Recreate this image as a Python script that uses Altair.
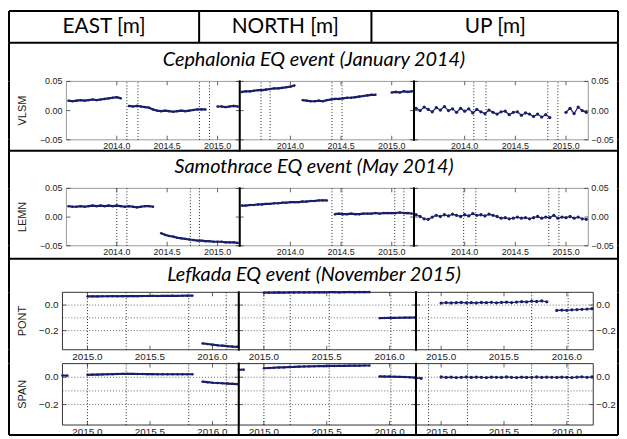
import altair as alt
import pandas as pd

# ---------------- text ----------------
HEADERS = ["EAST [m]", "NORTH [m]", "UP [m]"]
TITLES = ["Cephalonia EQ event (January 2014)",
          "Samothrace EQ event (May 2014)",
          "Lefkada EQ event (November 2015)"]
STATIONS = ["VLSM", "LEMN", "PONT", "SPAN"]

# ---------------- axes ----------------
XDOM_A = [2013.5, 2015.22]
XTICKS_A = [2014.0, 2014.5, 2015.0]
YDOM_A = [-0.05, 0.05]
YTICKS_A = [-0.05, 0.0, 0.05]
XDOM_B = [2014.8, 2016.21]
XTICKS_B = [2015.0, 2015.5, 2016.0]
YDOM_B = [-0.35, 0.1]
YTICKS_B = [0.0, -0.2]
YGRID_B = [0.0, -0.1, -0.2]

# dotted event epochs, one list per component (E, N, U)
EV_CEPH = [[2014.10, 2014.21, 2014.82, 2014.92],
           [2013.71, 2013.80, 2014.41, 2014.51],
           [2014.09, 2014.21, 2014.82, 2014.92]]
EV_SAMO = [[2014.00, 2014.10, 2014.73, 2014.82],
           [2014.41, 2014.51, 2015.03, 2015.12],
           [2013.99, 2014.11, 2014.83, 2014.93]]
EV_LEFK = [[2015.00, 2015.31, 2015.81, 2016.11],
           [2015.00, 2015.21, 2015.52, 2016.01],
           [2014.90, 2015.21, 2015.72, 2016.01]]

# ---------------- time series ----------------
T_A = [2013.52, 2013.56, 2013.60, 2013.64, 2013.68, 2013.72, 2013.76, 2013.80, 2013.84, 2013.88, 2013.92, 2013.96,
       2014.00, 2014.04, 2014.08, 2014.12, 2014.16, 2014.20, 2014.24, 2014.28, 2014.32, 2014.36, 2014.40, 2014.44, 2014.48,
       2014.52, 2014.56, 2014.60, 2014.64, 2014.68, 2014.72, 2014.76, 2014.80, 2014.84, 2014.88, 2014.92, 2014.96,
       2015.00, 2015.04, 2015.08, 2015.12, 2015.16, 2015.20]

VLSM_E = [0.017, 0.016, 0.017, 0.018, 0.017, 0.018, 0.019, 0.018, 0.019, 0.020, 0.021, 0.022,
          0.023, 0.021, None, 0.008, 0.007, 0.008, 0.007, 0.006, 0.005, 0.002, 0.000, -0.001, 0.000,
          -0.001, -0.002, -0.001, 0.000, -0.001, 0.000, 0.001, 0.002, 0.002, 0.002, None, None,
          0.007, 0.007, 0.006, 0.007, 0.008, 0.007]
VLSM_N = [0.032, 0.033, 0.033, 0.034, 0.035, 0.035, 0.036, 0.037, 0.038, 0.038, 0.039, 0.040,
          0.041, 0.043, None, 0.018, 0.017, 0.016, 0.016, 0.017, 0.016, 0.018, 0.019, 0.020, 0.020,
          0.021, 0.022, 0.022, 0.023, 0.024, 0.025, 0.026, 0.027, 0.027, None, None, None,
          0.031, 0.032, 0.031, 0.033, 0.032, 0.033]
VLSM_U = [0.004, 0.000, 0.006, 0.002, -0.002, 0.005, 0.001, 0.007, 0.000, 0.003, -0.003, 0.004,
          -0.001, 0.003, -0.004, 0.002, -0.002, -0.005, 0.001, -0.003, -0.006, -0.002, -0.001, -0.007, -0.003,
          -0.002, -0.008, -0.004, -0.006, -0.010, -0.006, -0.011, -0.007, -0.012, None, None, None,
          -0.003, 0.004, -0.005, 0.006, 0.000, -0.003]

LEMN_E = [0.019, 0.018, 0.018, 0.019, 0.018, 0.019, 0.020, 0.019, 0.020, 0.019, 0.020, 0.019,
          0.020, 0.019, 0.018, 0.019, 0.018, 0.017, 0.018, 0.019, 0.019, 0.018, None, -0.028, -0.031,
          -0.033, -0.034, -0.036, -0.037, -0.038, -0.039, -0.040, -0.041, -0.041, -0.042, -0.042, -0.043,
          -0.043, -0.043, -0.044, -0.044, -0.044, -0.045]
LEMN_N = [0.020, 0.020, 0.021, 0.021, 0.022, 0.022, 0.023, 0.023, 0.024, 0.024, 0.025, 0.025,
          0.026, 0.026, 0.026, 0.027, 0.027, 0.028, 0.028, 0.029, 0.029, 0.029, None, 0.005, 0.006,
          0.005, 0.005, 0.006, 0.005, 0.005, 0.006, 0.006, 0.006, 0.007, 0.006, 0.007, 0.007,
          0.007, 0.007, 0.008, 0.007, 0.007, 0.006]
LEMN_U = [0.004, 0.001, -0.003, -0.004, 0.000, 0.003, 0.001, 0.004, 0.002, 0.005, 0.003, 0.001,
          0.004, 0.002, 0.006, 0.003, 0.004, 0.002, 0.005, 0.003, 0.001, -0.002, -0.001, -0.003, -0.002,
          0.000, -0.002, -0.001, -0.003, -0.001, 0.001, -0.002, 0.000, -0.001, 0.003, -0.002, 0.000,
          -0.001, 0.001, -0.002, 0.000, -0.003, -0.004]

T_B = [2014.80, 2014.84, 2014.88, 2014.92, 2014.96,
       2015.00, 2015.04, 2015.08, 2015.12, 2015.16, 2015.20, 2015.24, 2015.28, 2015.32, 2015.36, 2015.40, 2015.44, 2015.48,
       2015.52, 2015.56, 2015.60, 2015.64, 2015.68, 2015.72, 2015.76, 2015.80, 2015.84, 2015.88, 2015.92, 2015.96,
       2016.00, 2016.04, 2016.08, 2016.12, 2016.16, 2016.20]

PONT_E = [None, None, None, None, None,
          0.068, 0.069, 0.068, 0.069, 0.069, 0.070, 0.069, 0.070, 0.070, 0.071, 0.070, 0.071, 0.071,
          0.072, 0.071, 0.072, 0.072, 0.073, 0.072, 0.073, 0.074, 0.074, None, -0.300, -0.305,
          -0.310, -0.315, -0.318, -0.322, -0.325, -0.327]
PONT_N = [None, None, None, None, None,
          0.097, 0.098, 0.098, 0.099, 0.098, 0.099, 0.099, 0.100, 0.099, 0.100, 0.100, 0.101, 0.100,
          0.101, 0.101, 0.100, 0.101, 0.102, 0.101, 0.102, 0.102, 0.102, None, -0.102, -0.101,
          -0.100, -0.100, -0.099, -0.098, -0.098, -0.097]
PONT_U = [None, None, None, None, None,
          0.016, 0.020, 0.017, 0.019, 0.021, 0.018, 0.020, 0.017, 0.021, 0.019, 0.022, 0.018, 0.021,
          0.023, 0.020, 0.024, 0.027, 0.025, 0.031, 0.028, 0.033, 0.026, None, -0.042, -0.039,
          -0.041, -0.037, -0.036, -0.033, -0.031, -0.028]
SPAN_E = [0.013, 0.012, None, None, None,
          0.018, 0.019, 0.020, 0.021, 0.022, 0.023, 0.024, 0.025, 0.025, 0.025, 0.024, 0.024, 0.023,
          0.023, 0.022, 0.022, 0.022, 0.022, 0.022, 0.022, 0.022, 0.022, None, -0.032, -0.036,
          -0.040, -0.042, -0.044, -0.046, -0.048, -0.050]
SPAN_N = [0.055, 0.056, None, None, None,
          0.066, 0.068, 0.070, 0.072, 0.073, 0.075, 0.076, 0.078, 0.079, 0.080, 0.081, 0.082, 0.082,
          0.083, 0.083, 0.084, 0.084, 0.085, 0.085, 0.085, 0.086, 0.086, None, 0.006, 0.005,
          0.005, 0.004, 0.003, 0.002, 0.000, -0.003]
SPAN_U = [-0.006, -0.008, None, None, None,
          0.002, -0.001, 0.001, -0.002, 0.000, 0.002, -0.001, 0.001, 0.000, -0.002, 0.001, 0.000, -0.001,
          0.002, 0.000, -0.002, 0.001, -0.001, 0.000, 0.002, -0.001, 0.001, 0.000, -0.001, 0.001,
          0.000, -0.002, 0.001, 0.003, 0.000, 0.002]

# ---------------- layout / style ----------------
W = 616
PX_A = [58, 233, 409, 585]
PX_B = [54, 232, 411, 590]
NAVY = "#1b1e6b"
INK = "#222222"
TICKFONT = "Liberation Sans"
HEADFONT = "Lato"
DUMMY = pd.DataFrame({"d": [0]})


def fmt(v, nd):
    return f"{v:.{nd}f}".replace("-", "\u2212")


def vrule(x, y1, y2, color="black", w=2):
    return alt.Chart(DUMMY).mark_rule(color=color, strokeWidth=w).encode(
        x=alt.value(x), y=alt.value(y1), y2=alt.value(y2))


def hrule(y, x1, x2, color="black", w=2):
    return alt.Chart(DUMMY).mark_rule(color=color, strokeWidth=w).encode(
        y=alt.value(y), x=alt.value(x1), x2=alt.value(x2))


def label(text, cx, cy, size=20, italic=False):
    kw = dict(text=text, font=HEADFONT, fontSize=size, align="center", baseline="middle", color="black")
    if italic:
        kw["fontStyle"] = "italic"
    return alt.Chart(DUMMY).mark_text(**kw).encode(x=alt.value(cx), y=alt.value(cy))


def panel(times, vals, events, xr, xdom, xticks, ydom, h, frame, side=None, yticks=None,
          nd=2, station=None, grid=None, lsize=9, thin=False):
    xs = alt.Scale(domain=xdom, range=xr, nice=False, zero=False)
    ys = alt.Scale(domain=ydom, nice=False, zero=False)
    X = lambda f: alt.X(f, scale=xs, axis=None)
    Y = lambda f: alt.Y(f, scale=ys, axis=None)

    fr = pd.DataFrame({"a": [xdom[0]], "b": [xdom[1]], "c": [ydom[0]], "e": [ydom[1]]})
    layers = [alt.Chart(fr).mark_rect(fillOpacity=0, stroke=frame, strokeWidth=1).encode(
        x=X("a:Q"), x2="b:Q", y=Y("c:Q"), y2="e:Q")]
    if grid:
        g = pd.DataFrame({"g": grid, "a": xdom[0], "b": xdom[1]})
        layers.append(alt.Chart(g).mark_rule(color="#444", strokeDash=[1, 2], strokeWidth=0.8).encode(
            y=Y("g:Q"), x=X("a:Q"), x2="b:Q"))
    ev = pd.DataFrame({"t": events, "c": ydom[0], "e": ydom[1]})
    layers.append(alt.Chart(ev).mark_rule(color=INK, strokeDash=[1, 2], strokeWidth=1).encode(
        x=X("t:Q"), y=Y("c:Q"), y2="e:Q"))
    # inward ticks (matplotlib style)
    tk = pd.DataFrame({"t": xticks})
    for yy in (2, h - 2):
        layers.append(alt.Chart(tk).mark_tick(color=INK, size=4, thickness=1).encode(
            x=X("t:Q"), y=alt.value(yy)))
    ytk = pd.DataFrame({"y": yticks})
    for xx in (xr[0] + 2, xr[1] - 2):
        layers.append(alt.Chart(ytk).mark_tick(color=INK, size=4, thickness=1).encode(
            y=Y("y:Q"), x=alt.value(xx)))
    # x tick labels
    xl = pd.DataFrame({"t": xticks, "lab": [fmt(t, 1) for t in xticks]})
    layers.append(alt.Chart(xl).mark_text(font=TICKFONT, fontSize=lsize, color=INK, baseline="top",
                                          align="center").encode(x=X("t:Q"), y=alt.value(h + 2), text="lab:N"))
    # y tick labels
    if side is not None:
        yl = pd.DataFrame({"y": yticks, "lab": [fmt(v, nd) for v in yticks],
                           "a": xdom[0] if side == "left" else xdom[1]})
        layers.append(alt.Chart(yl).mark_text(
            font=TICKFONT, fontSize=lsize, color=INK, baseline="middle",
            align="right" if side == "left" else "left", dx=-4 if side == "left" else 3).encode(
            x=X("a:Q"), y=Y("y:Q"), text="lab:N"))
    if station is not None:
        st = pd.DataFrame({"m": [(ydom[0] + ydom[1]) / 2], "s": [station]})
        layers.append(alt.Chart(st).mark_text(font=TICKFONT, fontSize=11, color=INK, angle=270,
                                              align="center", baseline="middle").encode(
            x=alt.value(14), y=Y("m:Q"), text="s:N"))
    # data
    df = pd.DataFrame({"t": times, "v": vals})
    df["seg"] = df["v"].isna().cumsum()
    df = df.dropna()
    layers.append(alt.Chart(df).mark_line(color=NAVY, strokeWidth=1.2 if thin else 2.2,
                                          strokeJoin="round").encode(
        x=X("t:Q"), y=Y("v:Q"), detail="seg:N"))
    layers.append(alt.Chart(df).mark_circle(color=NAVY, size=11 if thin else 6, opacity=1).encode(
        x=X("t:Q"), y=Y("v:Q")))
    return alt.layer(*layers)


def panel_row(series, times, events, px, xdom, xticks, ydom, h, frame, station, yticks, nd,
              grid=None, lsize=9, extra=None):
    ps = []
    for i, vals in enumerate(series):
        side = "left" if i == 0 else ("right" if i == 2 else None)
        ps.append(panel(times, vals, events[i], [px[i], px[i + 1]], xdom, xticks, ydom, h, frame,
                        side=side, yticks=yticks, nd=nd, station=station if i == 0 else None,
                        grid=grid, lsize=lsize, thin=(i == 2)))
    deco = [vrule(0, 0, h), vrule(W - 1, 0, h)]
    deco += extra or [vrule(px[1], -1, h + 1), vrule(px[2], -1, h + 1)]
    return alt.layer(*ps, *deco).resolve_scale(x="independent", y="independent").properties(width=W, height=h)


def text_row(h, items):
    return alt.layer(*items, vrule(0, 0, h), vrule(W - 1, 0, h)).properties(width=W, height=h)


H_HEAD, H_T1, H_R1, H_T2, H_R2, H_T3, H_R3A, H_GAP, H_R3B, H_BOT = 32, 39, 59, 49, 58, 47, 58, 14, 62, 10

header = text_row(H_HEAD, [
    hrule(0, 0, W - 1), hrule(H_HEAD, 0, W - 1),
    vrule(192, 0, H_HEAD), vrule(366, 0, H_HEAD),
    label(HEADERS[0], 96, 16, 21), label(HEADERS[1], 279, 16, 21), label(HEADERS[2], 491, 16, 21)])
t1 = text_row(H_T1, [label(TITLES[0], W / 2, 17, 20, italic=True)])
r1 = panel_row([VLSM_E, VLSM_N, VLSM_U], T_A, EV_CEPH, PX_A, XDOM_A, XTICKS_A, YDOM_A, H_R1,
               "#999", STATIONS[0], YTICKS_A, 2, lsize=9,
               extra=[vrule(PX_A[1], -1, H_R1 + 12), vrule(PX_A[2], -1, H_R1 + 1)])
t2 = text_row(H_T2, [hrule(11, 0, W - 1), label(TITLES[1], W / 2, 28, 20, italic=True)])
r2 = panel_row([LEMN_E, LEMN_N, LEMN_U], T_A, EV_SAMO, PX_A, XDOM_A, XTICKS_A, YDOM_A, H_R2,
               "#999", STATIONS[1], YTICKS_A, 2, lsize=9)
t3 = text_row(H_T3, [hrule(13, 0, W - 1), label(TITLES[2], W / 2, 30, 20, italic=True)])
r3a = panel_row([PONT_E, PONT_N, PONT_U], T_B, EV_LEFK, PX_B, XDOM_B, XTICKS_B, YDOM_B, H_R3A,
                "#333", STATIONS[2], YTICKS_B, 1, grid=YGRID_B, lsize=10)
gap = text_row(H_GAP, [])
r3b = panel_row([SPAN_E, SPAN_N, SPAN_U], T_B, EV_LEFK, PX_B, XDOM_B, XTICKS_B, YDOM_B, H_R3B,
                "#333", STATIONS[3], YTICKS_B, 1, grid=YGRID_B, lsize=10,
                extra=[vrule(PX_B[1], -1, H_R3B + 10), vrule(PX_B[2], -1, H_R3B + 10)])
bottom = text_row(H_BOT, [hrule(H_BOT, 0, W - 1)])

chart = alt.vconcat(header, t1, r1, t2, r2, t3, r3a, gap, r3b, bottom, spacing=0, bounds="flush").properties(
    padding=0, background="white").configure_view(strokeWidth=0)

chart.save("out.html", embed_options={"renderer": "svg", "actions": False})
